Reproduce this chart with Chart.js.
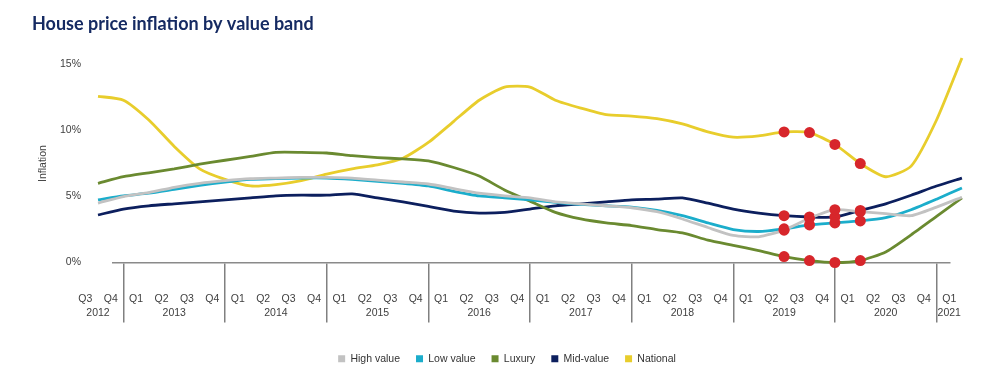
<!DOCTYPE html>
<html>
<head>
<meta charset="utf-8">
<script src="https://cdn.jsdelivr.net/npm/chart.js@4/dist/chart.umd.min.js"></script>
<style>
  html, body { margin: 0; padding: 0; background: #fff; }
  #wrap { width: 1000px; height: 386px; }
</style>
</head>
<body>
<div id="wrap"><canvas id="chart" width="1000" height="386"></canvas></div>
<script>
// House price inflation by value band, quarterly, Q3 2012 .. Q1 2021

const quarters = [
  '2012 Q3', '2012 Q4',
  '2013 Q1', '2013 Q2', '2013 Q3', '2013 Q4',
  '2014 Q1', '2014 Q2', '2014 Q3', '2014 Q4',
  '2015 Q1', '2015 Q2', '2015 Q3', '2015 Q4',
  '2016 Q1', '2016 Q2', '2016 Q3', '2016 Q4',
  '2017 Q1', '2017 Q2', '2017 Q3', '2017 Q4',
  '2018 Q1', '2018 Q2', '2018 Q3', '2018 Q4',
  '2019 Q1', '2019 Q2', '2019 Q3', '2019 Q4',
  '2020 Q1', '2020 Q2', '2020 Q3', '2020 Q4',
  '2021 Q1'
];

const highValue = [4.5, 5.0, 5.3, 5.7, 6.0, 6.2, 6.35, 6.4, 6.45, 6.45, 6.4, 6.25, 6.1, 5.95, 5.6, 5.25, 5.05, 4.9,
  4.6, 4.45, 4.3, 4.15, 3.85, 3.3, 2.65, 2.05, 1.95, 2.45, 3.35, 4.0, 3.85, 3.7, 3.55, 4.2, 4.95];
const lowValue = [4.75, 5.05, 5.25, 5.55, 5.85, 6.1, 6.3, 6.35, 6.4, 6.4, 6.3, 6.15, 6.0, 5.8, 5.4, 5.05, 4.9, 4.75,
  4.55, 4.4, 4.3, 4.2, 3.95, 3.55, 3.0, 2.5, 2.35, 2.55, 2.85, 3.0, 3.15, 3.4, 4.0, 4.8, 5.65];
const luxury = [6.0, 6.5, 6.8, 7.1, 7.45, 7.75, 8.05, 8.35, 8.35, 8.3, 8.1, 7.95, 7.85, 7.7, 7.2, 6.55, 5.5, 4.65,
  3.8, 3.3, 3.0, 2.8, 2.5, 2.25, 1.7, 1.3, 0.9, 0.45, 0.15, 0.0, 0.15, 0.8, 2.1, 3.5, 4.9];
const midValue = [3.6, 4.05, 4.3, 4.45, 4.6, 4.75, 4.9, 5.05, 5.1, 5.1, 5.2, 4.9, 4.6, 4.25, 3.9, 3.75, 3.8, 4.05,
  4.3, 4.45, 4.6, 4.75, 4.8, 4.9, 4.5, 4.05, 3.75, 3.55, 3.45, 3.45, 3.95, 4.45, 5.1, 5.8, 6.4];
const national = [12.6, 12.3, 10.8, 8.8, 7.1, 6.3, 5.8, 5.9, 6.2, 6.7, 7.1, 7.4, 7.9, 9.1, 10.7, 12.3, 13.3, 13.3,
  12.3, 11.7, 11.2, 11.1, 10.9, 10.5, 9.9, 9.5, 9.6, 9.9, 9.85, 8.95, 7.5, 6.5, 7.3, 10.8, 15.5];

// quarters marked with red dots
const highlighted = ['2019 Q2', '2019 Q3', '2019 Q4', '2020 Q1'];

const yTicks = [0, 5, 10, 15];

const FONT = 'Liberation Sans, Arial, sans-serif';
const TEXT = '#404040';

// quarter labels sit half a step before their data point, years centred on their quarters
const qLabelTicks = quarters.map((q, i) => ({ value: i - 0.5, label: q.split(' ')[1] }));
const years = [...new Set(quarters.map(q => q.split(' ')[0]))];
const yearTicks = years.map(y => {
  const vals = qLabelTicks.filter((t, i) => quarters[i].startsWith(y)).map(t => t.value);
  return { value: (vals[0] + vals[vals.length - 1]) / 2, label: y };
});
const separatorTicks = [];
quarters.forEach((q, i) => {
  if (i > 0 && q.split(' ')[0] !== quarters[i - 1].split(' ')[0]) {
    separatorTicks.push({ value: i - 1, label: '' });
  }
});
const xTicks = [...qLabelTicks, ...separatorTicks];
const isSeparator = v => separatorTicks.some(t => t.value === v);
const highlightIdx = highlighted.map(q => quarters.indexOf(q));

const X_MIN = 0.59, X_MAX = 33.53;

function series(label, values, color) {
  return {
    label,
    data: values.map((v, i) => ({ x: i, y: v })),
    borderColor: color,
    backgroundColor: color,
    borderWidth: 2.8,
    tension: 0.2,
    clip: false,
    pointRadius: ctx => highlightIdx.includes(ctx.dataIndex) ? 5.5 : 0,
    pointBackgroundColor: '#d7262b',
    pointBorderWidth: 0,
    pointHoverRadius: 0
  };
}

new Chart(document.getElementById('chart'), {
  type: 'line',
  data: {
    datasets: [
      series('High value', highValue, '#c2c2c2'),
      series('Low value', lowValue, '#1badcb'),
      series('Luxury', luxury, '#6a8a30'),
      series('Mid-value', midValue, '#0c1f5e'),
      series('National', national, '#e8cd2c')
    ]
  },
  options: {
    responsive: false,
    animation: false,
    layout: { padding: { left: 32, right: 18, top: 0, bottom: 12 } },
    plugins: {
      title: {
        display: true,
        text: 'House price inflation by value band',
        align: 'start',
        color: '#152a62',
        font: { family: 'Lato', size: 18, weight: 'bold' },
        padding: { top: 13, bottom: 30 }
      },
      legend: {
        position: 'bottom',
        labels: {
          color: '#333',
          font: { family: FONT, size: 10.5 },
          boxWidth: 7,
          boxHeight: 7,
          padding: 16,
          generateLabels: chart => Chart.defaults.plugins.legend.labels.generateLabels(chart)
            .map(l => ({ ...l, lineWidth: 0 }))
        }
      },
      tooltip: { enabled: false }
    },
    scales: {
      x: {
        type: 'linear',
        position: 'bottom',
        min: X_MIN,
        max: X_MAX,
        afterBuildTicks: s => { s.ticks = xTicks.map(t => ({ value: t.value })); },
        afterFit: s => { s.height = 45; },
        ticks: {
          autoSkip: false,
          maxRotation: 0,
          padding: -30,
          color: TEXT,
          font: { family: FONT, size: 10.5 },
          callback: (v, i) => xTicks[i].label
        },
        grid: {
          drawOnChartArea: false,
          drawTicks: true,
          tickLength: 60,
          lineWidth: 1.5,
          color: ctx => isSeparator(ctx.tick && ctx.tick.value) ? '#808080' : 'rgba(0,0,0,0)'
        },
        border: { display: true, color: '#8a8a8a', width: 1.5 }
      },
      years: {
        type: 'linear',
        axis: 'x',
        position: 'bottom',
        min: X_MIN,
        max: X_MAX,
        afterBuildTicks: s => { s.ticks = yearTicks.map(t => ({ value: t.value })); },
        afterFit: s => { s.height = 30; },
        ticks: {
          autoSkip: false,
          maxRotation: 0,
          padding: -1,
          color: TEXT,
          font: { family: FONT, size: 10.5 },
          callback: (v, i) => yearTicks[i].label
        },
        grid: { display: false, drawTicks: false },
        border: { display: false }
      },
      y: {
        min: 0,
        max: 15,
        afterBuildTicks: s => { s.ticks = yTicks.map(v => ({ value: v })); },
        afterFit: s => { s.width = 81; },
        title: {
          display: true,
          text: 'Inflation',
          color: TEXT,
          font: { family: FONT, size: 10.5 },
          padding: { top: 5, bottom: 0 }
        },
        ticks: {
          padding: 32,
          color: TEXT,
          font: { family: FONT, size: 10.5 },
          callback: v => v + '%'
        },
        grid: { display: false, drawTicks: false },
        border: { display: false }
      },
      // empty right-hand gutter so the legend centres where the original does
      gutter: {
        type: 'linear',
        position: 'right',
        afterFit: s => { s.width = 32; },
        ticks: { display: false },
        grid: { display: false, drawTicks: false },
        border: { display: false }
      }
    }
  }
});
</script>
</body>
</html>
